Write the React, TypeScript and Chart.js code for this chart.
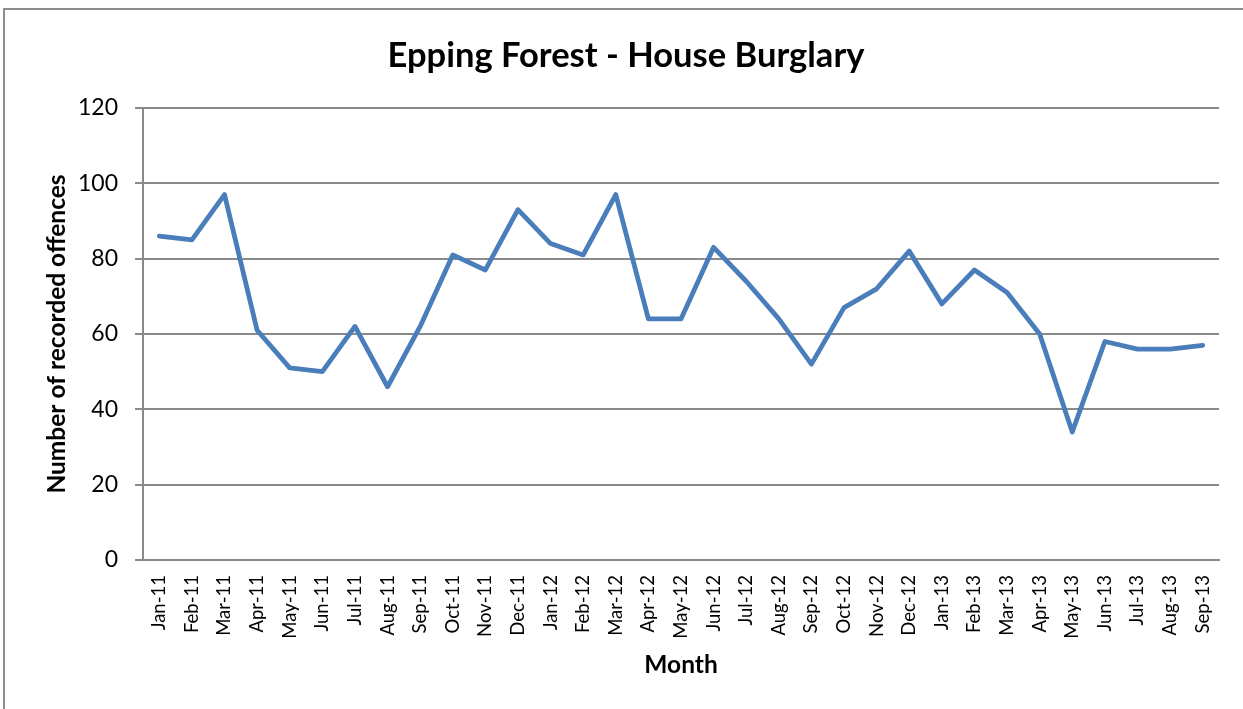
import React, { useEffect, useRef } from "react";
import { Chart, registerables } from "chart.js";

Chart.register(...registerables);

const months = [
  "Jan-11", "Feb-11", "Mar-11", "Apr-11", "May-11", "Jun-11", "Jul-11", "Aug-11", "Sep-11", "Oct-11", "Nov-11", "Dec-11",
  "Jan-12", "Feb-12", "Mar-12", "Apr-12", "May-12", "Jun-12", "Jul-12", "Aug-12", "Sep-12", "Oct-12", "Nov-12", "Dec-12",
  "Jan-13", "Feb-13", "Mar-13", "Apr-13", "May-13", "Jun-13", "Jul-13", "Aug-13", "Sep-13",
];

const offences = [
  86, 85, 97, 61, 51, 50, 62, 46, 62, 81, 77, 93,
  84, 81, 97, 64, 64, 83, 74, 64, 52, 67, 72, 82,
  68, 77, 71, 60, 34, 58, 56, 56, 57,
];

const chartTitle = "Epping Forest - House Burglary";
const xTitle = "Month";
const yTitle = "Number of recorded offences";
const yMin = 0;
const yMax = 120;
const yStep = 20;

const FONT = "Lato, 'Open Sans', sans-serif";
const GRID = "#8a8a8a";

export default function App() {
  const ref = useRef<HTMLCanvasElement | null>(null);

  useEffect(() => {
    if (!ref.current) return;
    const chart = new Chart(ref.current, {
      type: "line",
      data: {
        labels: months,
        datasets: [
          {
            data: offences,
            borderColor: "#4a7ebb",
            backgroundColor: "#4a7ebb",
            borderWidth: 4.8,
            pointRadius: 0,
            tension: 0,
            borderJoinStyle: "round",
            borderCapStyle: "round",
            fill: false,
          },
        ],
      },
      options: {
        responsive: false,
        animation: false,
        layout: { padding: { left: 33, top: 0, right: 24, bottom: 0 } },
        plugins: {
          legend: { display: false },
          tooltip: { enabled: false },
          title: {
            display: true,
            text: chartTitle,
            color: "#000",
            font: { family: FONT, size: 34.5, weight: "bold", lineHeight: 1.2 },
            padding: { top: 35, bottom: 31.6 },
          },
        },
        scales: {
          x: {
            type: "category",
            offset: true,
            grid: { display: false, drawTicks: false },
            border: { display: true, color: GRID, width: 2 },
            ticks: {
              autoSkip: false,
              maxRotation: 90,
              minRotation: 90,
              padding: 15,
              color: "#000",
              font: { family: FONT, size: 18.5 },
            },
            title: {
              display: true,
              text: xTitle,
              color: "#000",
              font: { family: FONT, size: 24.5, weight: "bold", lineHeight: 1.2 },
              padding: { top: 0, bottom: 29 },
            },
            afterFit: (scale: any) => {
              scale.height = 149;
            },
          },
          y: {
            min: yMin,
            max: yMax,
            ticks: {
              stepSize: yStep,
              padding: 17,
              color: "#000",
              font: { family: FONT, size: 23 },
            },
            grid: { color: GRID, lineWidth: 2, tickLength: 8, drawTicks: true },
            border: { display: true, color: GRID, width: 2 },
            title: {
              display: true,
              text: yTitle,
              color: "#000",
              font: { family: FONT, size: 24.5, weight: "bold", lineHeight: 1.2 },
              padding: { top: 9, bottom: 0 },
            },
            afterFit: (scale: any) => {
              scale.width = 110;
            },
          },
        },
      },
    });
    return () => chart.destroy();
  }, []);

  return (
    <div
      style={{
        position: "fixed",
        left: 0,
        top: 0,
        width: 1243,
        height: 709,
        overflow: "hidden",
        background: "#fff",
      }}
    >
      <div
        style={{
          position: "absolute",
          left: 3,
          top: 8,
          width: 1300,
          height: 800,
          border: "2px solid #8c8c8c",
          boxSizing: "border-box",
        }}
      />
      <canvas
        ref={ref}
        width={1243}
        height={709}
        style={{ position: "absolute", left: 0, top: 0, display: "block" }}
      />
    </div>
  );
}
